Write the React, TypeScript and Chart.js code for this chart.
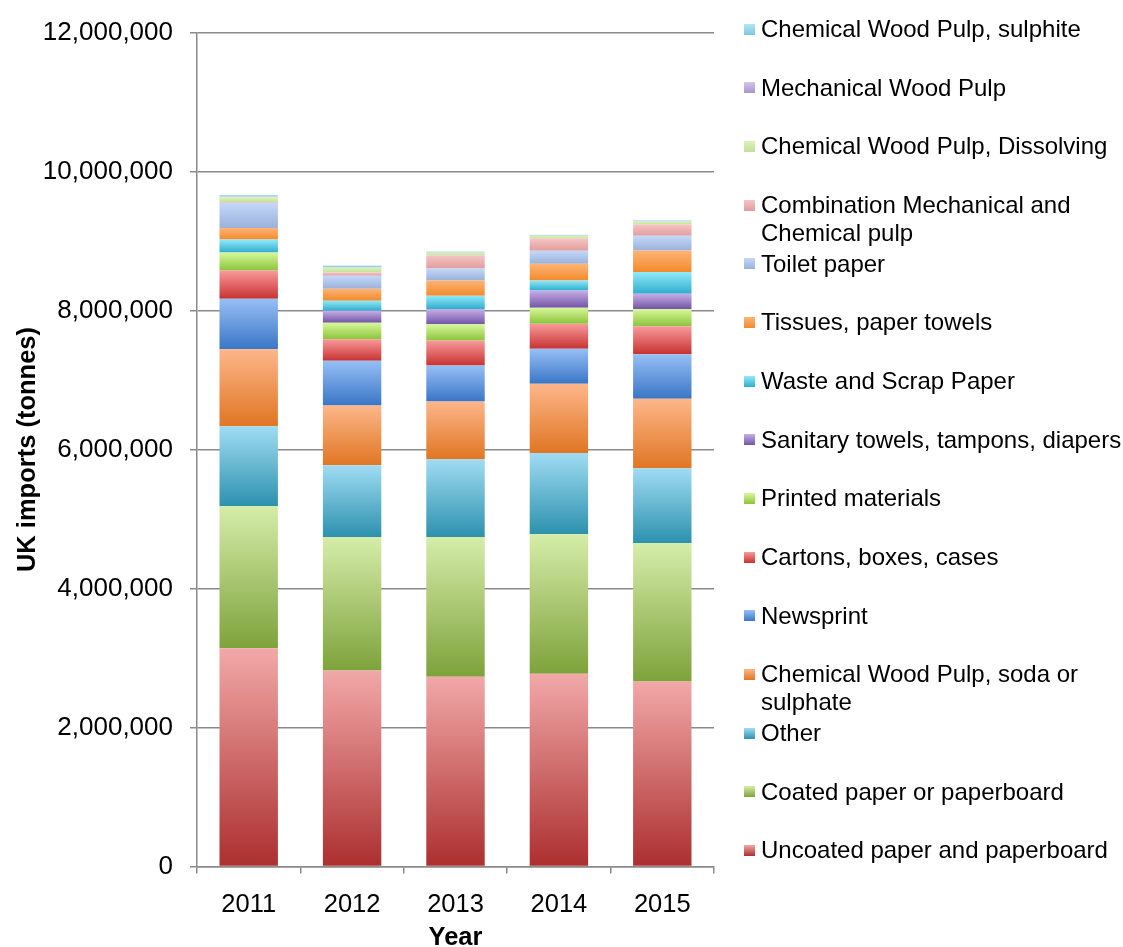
import React, { useEffect, useRef } from "react";
import { Chart, registerables } from "chart.js";

Chart.register(...registerables);

const years = ["2011", "2012", "2013", "2014", "2015"];

const uncoated = [3139000, 2819000, 2729000, 2772000, 2661000];
const coated = [2047000, 1923000, 2013000, 2013000, 1995000];
const other = [1148000, 1033000, 1119000, 1166000, 1076000];
const chemSoda = [1109000, 860000, 832000, 996000, 999000];
const newsprint = [728000, 642000, 516000, 502000, 641000];
const cartons = [406000, 310000, 359000, 363000, 402000];
const printed = [258000, 239000, 234000, 230000, 249000];
const sanitary = [0, 172000, 221000, 248000, 219000];
const waste = [186000, 144000, 191000, 143000, 312000];
const tissues = [168000, 172000, 219000, 240000, 309000];
const toilet = [359000, 186000, 172000, 186000, 212000];
const combination = [10000, 48000, 187000, 177000, 162000];
const dissolving = [72000, 72000, 39000, 39000, 43000];
const mechanical = [12000, 5000, 5000, 5000, 5000];
const sulphite = [20000, 24000, 14000, 10000, 14000];

const yTicks = [0, 2000000, 4000000, 6000000, 8000000, 10000000, 12000000];

// stacking order: bottom first
const series = [
  { label: ["Uncoated paper and paperboard"], data: uncoated, top: "#F2A8A8", bottom: "#AC2F2F" },
  { label: ["Coated paper or paperboard"], data: coated, top: "#D5EDA9", bottom: "#7EA23B" },
  { label: ["Other"], data: other, top: "#A0DCF3", bottom: "#2D91AE" },
  { label: ["Chemical Wood Pulp, soda or", "sulphate"], data: chemSoda, top: "#FDB68A", bottom: "#E07623" },
  { label: ["Newsprint"], data: newsprint, top: "#97BFF6", bottom: "#3A76C6" },
  { label: ["Cartons, boxes, cases"], data: cartons, top: "#F99A9A", bottom: "#C83232" },
  { label: ["Printed materials"], data: printed, top: "#D8F89C", bottom: "#8BC43A" },
  { label: ["Sanitary towels, tampons, diapers"], data: sanitary, top: "#C8AEE8", bottom: "#7255A6" },
  { label: ["Waste and Scrap Paper"], data: waste, top: "#90EAF9", bottom: "#30ADCD" },
  { label: ["Tissues, paper towels"], data: tissues, top: "#FDB476", bottom: "#F38A2C" },
  { label: ["Toilet paper"], data: toilet, top: "#C3D8F9", bottom: "#9AB1DA" },
  { label: ["Combination Mechanical and", "Chemical pulp"], data: combination, top: "#F7C3C3", bottom: "#E09E9E" },
  { label: ["Chemical Wood Pulp, Dissolving"], data: dissolving, top: "#DDF3B8", bottom: "#C2E09A" },
  { label: ["Mechanical Wood Pulp"], data: mechanical, top: "#D3C6EA", bottom: "#A895CC" },
  { label: ["Chemical Wood Pulp, sulphite"], data: sulphite, top: "#B2E6F4", bottom: "#7CC8DE" },
];

const FONT = "'Liberation Sans', Arial, sans-serif";
const GRID = "#8a8a8a";

export default function App() {
  const ref = useRef<HTMLCanvasElement | null>(null);

  useEffect(() => {
    if (!ref.current) return;
    const chart = new Chart(ref.current, {
      type: "bar",
      data: {
        labels: years,
        datasets: series.map((s, d) => ({
          label: s.label.join(" "),
          data: s.data,
          borderWidth: 0,
          barPercentage: 0.565,
          categoryPercentage: 1,
          backgroundColor: (ctx: any) => {
            const c = ctx.chart;
            if (ctx.type !== "data" || !c.chartArea || !c.scales.y) return s.top;
            const i = ctx.dataIndex;
            let base = 0;
            for (let k = 0; k < d; k++) base += series[k].data[i];
            const y0 = c.scales.y.getPixelForValue(base);
            const y1 = c.scales.y.getPixelForValue(base + s.data[i]);
            if (!isFinite(y0) || !isFinite(y1) || y0 === y1) return s.top;
            const g = c.ctx.createLinearGradient(0, y1, 0, y0);
            g.addColorStop(0, s.top);
            g.addColorStop(1, s.bottom);
            return g;
          },
        })),
      },
      options: {
        animation: false,
        responsive: false,
        maintainAspectRatio: false,
        layout: { padding: { left: 0, right: 409, top: 30, bottom: 0 } },
        plugins: { legend: { display: false }, tooltip: { enabled: false } },
        scales: {
          x: {
            stacked: true,
            afterFit: (scale: any) => {
              scale.height = 80.5;
            },
            grid: {
              offset: true,
              drawOnChartArea: false,
              drawTicks: true,
              tickLength: 7,
              color: GRID,
              lineWidth: 1.5,
            },
            border: { display: true, color: GRID, width: 1.5 },
            ticks: {
              color: "#000",
              padding: 16,
              font: { family: FONT, size: 25.5 },
            },
            title: {
              display: true,
              text: "Year",
              color: "#000",
              padding: { top: 0, bottom: -4 },
              font: { family: FONT, size: 25.5, weight: "bold", lineHeight: 1 },
            },
          },
          y: {
            stacked: true,
            min: 0,
            max: 12000000,
            afterFit: (scale: any) => {
              scale.width = 197;
            },
            afterBuildTicks: (scale: any) => {
              scale.ticks = yTicks.map((v) => ({ value: v }));
            },
            grid: {
              drawTicks: true,
              tickLength: 7,
              color: GRID,
              lineWidth: 1.5,
            },
            border: { display: true, color: GRID, width: 1.5 },
            ticks: {
              color: "#000",
              padding: 17,
              font: { family: FONT, size: 26 },
              callback: (v: any) => Number(v).toLocaleString("en-US"),
            },
            title: {
              display: true,
              text: "UK imports (tonnes)",
              color: "#000",
              padding: { top: 15, bottom: 0 },
              font: { family: FONT, size: 25.5, weight: "bold", lineHeight: 1 },
            },
          },
        },
      },
    });
    return () => chart.destroy();
  }, []);

  const legendItems = [...series].reverse();

  return (
    <div
      style={{
        position: "fixed",
        left: 0,
        top: 0,
        width: 1123,
        height: 947,
        background: "#fff",
        overflow: "hidden",
      }}
    >
      <canvas ref={ref} width={1123} height={947} style={{ position: "absolute", left: 0, top: 0 }} />
      {legendItems.map((s, i) => {
        const cy = 29 + i * 58.67;
        return (
          <div key={i}>
            <div
              style={{
                position: "absolute",
                left: 744,
                top: cy - 5.5,
                width: 11,
                height: 11,
                background: `linear-gradient(to bottom, ${s.top}, ${s.bottom})`,
              }}
            />
            <div
              style={{
                position: "absolute",
                left: 761,
                top: cy - 14,
                fontFamily: FONT,
                fontSize: 24,
                lineHeight: "28px",
                color: "#000",
                whiteSpace: "nowrap",
              }}
            >
              {s.label.map((t, j) => (
                <div key={j}>{t}</div>
              ))}
            </div>
          </div>
        );
      })}
    </div>
  );
}
